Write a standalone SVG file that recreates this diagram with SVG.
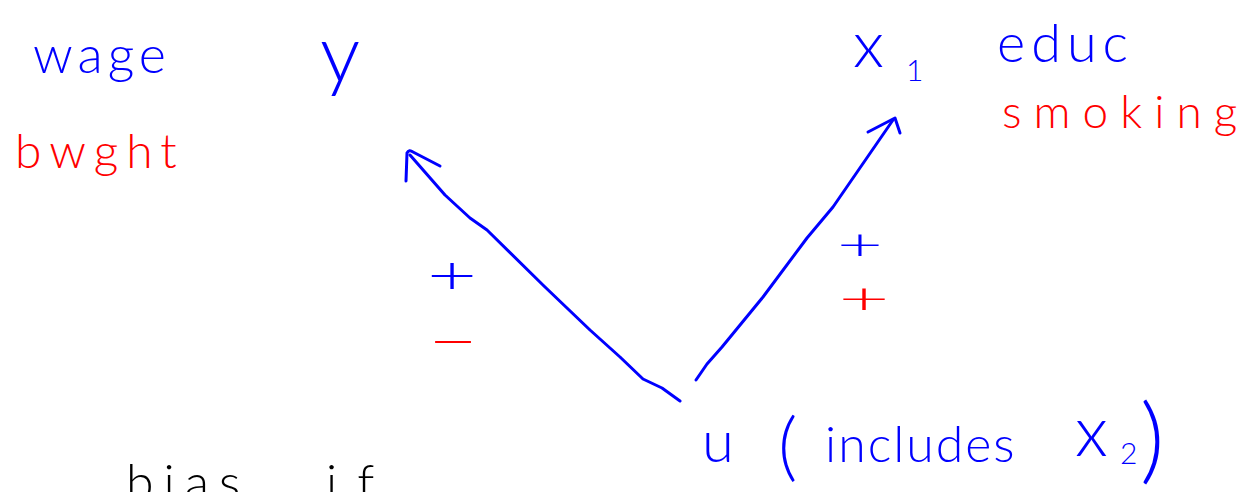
<svg xmlns="http://www.w3.org/2000/svg" width="1253" height="492" viewBox="0 0 1253 492">
<style>
text{font-family:Lato,Roboto,"Liberation Sans",sans-serif;font-weight:300}
.b{fill:#0000ff}
.r{fill:#ff0000}
.k{fill:#000000}
.ln{fill:none;stroke:#0000ff;stroke-width:3;stroke-linecap:round;stroke-linejoin:round}
.m{text-anchor:middle}
</style>
<rect width="1253" height="492" fill="#ffffff"/>
<g id="node-y">
<text class="b" x="33" y="73" font-size="52" letter-spacing="5">wage</text>
<text class="b" x="320" y="82" font-size="80">y</text>
<text class="r" x="15" y="168" font-size="48" letter-spacing="8">bwght</text>
</g>
<g id="node-x1">
<text class="b" x="853" y="67" font-size="66">x</text>
<text class="b" x="906" y="81" font-size="30">1</text>
<text class="b" x="997" y="62" font-size="54" letter-spacing="6">educ</text>
<text class="r" x="1002" y="128" font-size="46" letter-spacing="12">smoking</text>
</g>
<g id="node-u">
<text class="b" x="702" y="462" font-size="58">u</text>
<text class="b" x="778" y="472" font-size="75">(</text>
<text class="b" x="825" y="462" font-size="50" letter-spacing="2">includes</text>
<text class="b" x="1075" y="456" font-size="70">x</text>
<text class="b" x="1120" y="464" font-size="30">2</text>
<text class="b" x="1140" y="472" font-size="95">)</text>
</g>
<g id="note">
<text class="k" x="126" y="500" font-size="50" letter-spacing="10">bias</text>
<text class="k" x="326" y="500" font-size="50" letter-spacing="20">if</text>
</g>
<g id="connectors">
<path class="ln" d="M680,401 L662,388 L643,379 L620,357 L590,330 L545,287 L487,230 L470,218 L445,195 L410,155"/>
<path class="ln" d="M406,181 L407,153 Q409,149 413,152 L440,166"/>
<path class="ln" d="M696,380 L707,364 L722,347 L763,297 L807,238 L833,207 L893,120"/>
<path class="ln" d="M868,132 L895,118 L900,133"/>
<text class="b m" transform="translate(452,274) scale(1.6,1)" x="0" y="20" font-size="54">+</text>
<text class="r m" transform="translate(453,340) scale(1.6,1)" x="0" y="20" font-size="54">−</text>
<text class="b m" transform="translate(860,244) scale(1.8,1)" x="0" y="16" font-size="44">+</text>
<text class="r m" transform="translate(864,298) scale(2,1)" x="0" y="16" font-size="44">+</text>
</g>
</svg>
